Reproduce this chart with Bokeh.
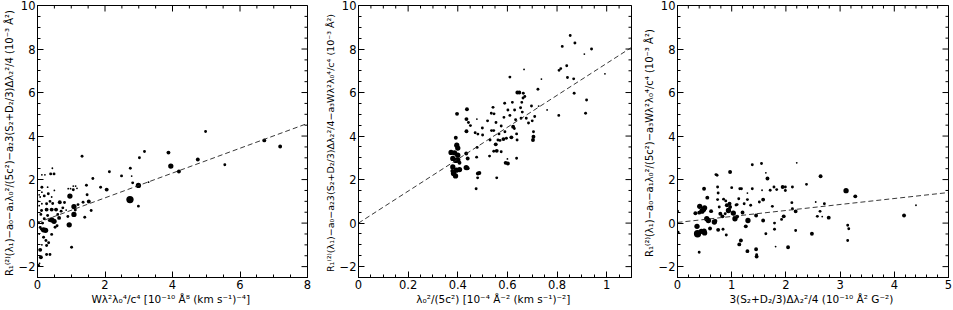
import math
from bokeh.plotting import figure
from bokeh.layouts import row
from bokeh.models import Range1d, LinearAxis, SingleIntervalTicker, CustomJSTickFormatter, ColumnDataSource
from bokeh.embed import file_html
from bokeh.resources import INLINE

# ---------------- data ----------------
# panel 1: x = W^2 lambda0^4 / c^4, y = residual, w = weight class (1..5)
p1_x = [4.98, 4.75, 3.95, 4.19, 5.55, 6.72, 7.19, 3.88, 3.17, 3.02, 3.29, 2.99, 2.99, 2.74, 2.75, 2.79, 2.82,
        2.49, 2.13, 2.05, 1.87, 1.64, 1.45, 1.32, 1.52, 1.59, 1.40, 1.47, 1.35, 1.20, 1.17, 1.13, 1.06, 1.06,
        0.98, 0.91, 0.96, 1.08, 1.08, 0.94, 1.01, 1.12, 0.90, 0.80, 0.66, 0.64, 0.75, 0.55, 0.42, 0.27, 0.12,
        0.42, 0.49, 0.35, 0.18, 0.24, 0.12, 0.08, 0.03, 0.52, 0.58, 0.42, 0.18, 0.25, 0.27, 0.33, 0.08, 0.10,
        0.27, 0.37, 0.03, 0.06, 0.13, 0.05, 0.20, 0.30, 0.60, 0.50, 0.39, 0.49, 0.44, 0.13, 0.22, 0.13, 0.13,
        0.05, 0.32, 0.42, 0.20, 0.08, 0.13, 0.27, 0.37, 0.05, 0.10, 0.30, 0.45, 0.03, 0.15, 0.70, 0.85]
p1_y = [4.21, 2.92, 2.62, 2.37, 2.68, 3.80, 3.52, 3.24, 3.29, 3.00, 1.88, 1.73, 0.78, 1.08, 2.52, 2.16, 1.85,
        2.17, 2.36, 1.54, 1.65, 2.05, 1.74, 3.07, 0.99, 0.58, 0.27, 1.30, 0.96, 0.85, 1.60, 1.70, 1.70, 1.53,
        1.58, 1.58, 1.24, 0.76, 0.40, -0.08, -1.11, 0.60, 0.30, 0.95, 0.96, 0.24, 0.70, 0.62, 0.62, 0.62, 0.58,
        0.15, 0.08, 0.12, -0.31, -0.33, -0.28, -0.20, 0.02, -0.19, -0.12, -0.52, -0.65, -0.80, -1.03, -0.90, -1.23, -1.57,
        -1.44, -1.44, -1.95, -1.85, -1.00, -0.50, 0.20, 0.35, 0.40, 1.50, 2.26, 2.26, 2.52, 2.22, 2.22, 1.65, 1.42,
        1.30, 1.35, 1.20, 1.25, 1.20, 0.89, 0.89, 1.00, 0.80, 0.40, 1.65, 0.90, 1.00, 0.00, 0.55, 0.60]
p1_w = [2, 3, 4, 3, 2, 3, 3, 3, 2, 2, 1, 4, 2, 5, 2, 1, 2,
        2, 2, 3, 2, 2, 2, 2, 3, 2, 2, 2, 2, 2, 1, 1, 1, 2,
        1, 1, 4, 4, 4, 4, 2, 2, 2, 2, 3, 3, 2, 3, 3, 3, 2,
        4, 4, 2, 4, 4, 2, 2, 2, 2, 2, 2, 2, 2, 2, 2, 3, 3,
        2, 2, 2, 1, 1, 1, 2, 2, 2, 1, 2, 2, 1, 1, 1, 2, 1,
        1, 2, 1, 2, 1, 1, 2, 2, 1, 2, 1, 2, 1, 2, 2, 1]

# panel 2: x = lambda0^2/(5c^2)
p2_x = [0.373, 0.387, 0.396, 0.400, 0.400, 0.380, 0.392, 0.400, 0.407, 0.380, 0.394, 0.407, 0.383, 0.391, 0.378,
        0.392, 0.397, 0.434, 0.440, 0.434, 0.440, 0.435, 0.437, 0.435, 0.443, 0.451, 0.470, 0.481, 0.477, 0.499,
        0.476, 0.481, 0.487, 0.480, 0.474, 0.478, 0.528, 0.530, 0.536, 0.535, 0.542, 0.546, 0.554, 0.553, 0.557,
        0.557, 0.562, 0.566, 0.575, 0.584, 0.575, 0.586, 0.589, 0.602, 0.610, 0.593, 0.602, 0.596, 0.616, 0.623,
        0.628, 0.633, 0.640, 0.648, 0.629, 0.639, 0.637, 0.637, 0.653, 0.658, 0.663, 0.664, 0.670, 0.655, 0.676,
        0.685, 0.697, 0.700, 0.703, 0.705, 0.705, 0.667, 0.737, 0.723, 0.726, 0.710, 0.808, 0.815, 0.821, 0.839,
        0.842, 0.853, 0.872, 0.867, 0.869, 0.939, 0.910, 0.915, 0.919, 0.993, 0.807, 0.610, 0.590, 0.545, 0.520,
        0.500, 0.660, 0.620, 0.570, 0.545, 0.600, 0.760]
p2_y = [3.25, 3.23, 3.58, 3.45, 3.12, 2.97, 2.88, 2.90, 2.77, 2.58, 2.43, 2.46, 2.28, 2.17, 2.40,
        3.92, 5.02, 3.20, 2.97, 2.55, 2.52, 4.22, 5.23, 4.78, 4.62, 4.48, 4.15, 4.09, 4.78, 4.37,
        3.03, 2.28, 2.30, 2.08, 1.58, 3.48, 3.08, 3.82, 4.25, 5.05, 5.32, 5.02, 4.62, 3.62, 3.32,
        2.08, 3.82, 4.10, 3.28, 3.86, 4.46, 4.86, 5.51, 5.20, 6.71, 2.77, 2.74, 3.90, 3.94, 4.43,
        4.35, 4.75, 6.00, 6.00, 5.20, 3.82, 4.10, 2.98, 5.30, 5.55, 5.75, 5.97, 5.82, 4.82, 4.82,
        4.60, 5.38, 4.70, 3.82, 3.97, 4.20, 7.06, 6.62, 6.15, 5.38, 4.90, 7.02, 7.10, 8.12, 7.23,
        6.69, 8.62, 8.28, 6.63, 5.97, 8.00, 7.77, 5.05, 5.66, 6.86, 4.95, 4.95, 4.20, 4.25, 4.70,
        4.05, 5.10, 5.55, 3.80, 3.30, 2.95, 5.20]
p2_w = [4, 4, 4, 4, 4, 4, 4, 4, 3, 4, 4, 4, 4, 4, 3,
        3, 3, 3, 3, 4, 3, 3, 3, 3, 2, 2, 2, 2, 1, 2,
        2, 3, 3, 2, 2, 2, 2, 2, 2, 2, 2, 2, 2, 3, 3,
        2, 2, 2, 2, 3, 2, 2, 2, 2, 2, 3, 3, 2, 3, 3,
        2, 2, 3, 3, 2, 2, 2, 2, 2, 2, 2, 2, 2, 2, 2,
        2, 2, 2, 3, 3, 2, 1, 1, 2, 1, 2, 2, 2, 2, 2,
        2, 2, 2, 2, 2, 2, 1, 2, 2, 1, 2, 2, 2, 2, 2,
        2, 2, 2, 2, 2, 1, 1]

# panel 3: x = 3(S2+D2/3) dlambda2^2 / 4
p3_x = [0.37, 0.36, 0.44, 0.49, 0.50, 0.41, 0.40, 0.48, 0.50, 0.57, 0.54, 0.68, 0.75, 0.75, 0.74, 0.71, 0.73,
        0.55, 0.49, 0.40, 0.00, 0.01, 0.79, 0.83, 0.84, 0.89, 0.91, 0.94, 0.97, 0.97, 0.96, 1.00, 1.03, 1.06,
        1.08, 1.10, 1.13, 1.15, 1.18, 1.20, 1.23, 1.17, 1.14, 1.26, 1.29, 1.30, 1.29, 1.29, 1.38, 1.38, 1.35,
        1.45, 1.45, 1.46, 1.46, 1.51, 1.55, 1.56, 1.58, 1.58, 1.63, 1.63, 1.66, 1.71, 1.75, 1.78, 1.79, 1.79,
        1.81, 1.83, 1.92, 1.94, 1.96, 1.99, 1.99, 2.04, 2.12, 2.11, 2.12, 2.18, 2.18, 2.20, 2.38, 2.48, 2.55,
        2.58, 2.63, 2.64, 2.67, 2.71, 2.79, 3.11, 3.14, 3.16, 3.14, 3.28, 4.18, 4.40, 0.77, 0.88, 0.74, 0.62,
        0.85, 0.70, 0.90, 1.10, 0.60, 0.33, 0.45]
p3_y = [-0.49, -0.15, -0.38, -0.37, -0.45, 0.77, 0.48, 0.62, 0.70, 0.12, 0.20, 0.05, -0.31, 1.38, 1.08, 2.23, 2.20,
        1.17, 1.58, -1.34, 0.55, -0.42, 0.43, 0.31, -0.28, 1.02, 0.82, 0.58, 0.74, 2.35, 0.89, 1.63, 0.46, 0.20,
        0.83, 0.85, 1.12, 1.58, 1.58, 0.49, 0.89, -0.80, -0.98, -0.15, -1.29, 0.12, 1.38, 1.08, 2.68, 1.58, 0.82,
        0.35, -1.20, -1.54, -1.45, 0.97, 2.74, 1.51, 1.08, 0.12, 2.31, -0.49, 2.05, 1.51, 0.77, 1.66, -0.28, 0.00,
        -1.08, 1.54, 0.17, 1.66, 0.31, 1.50, 1.66, -1.11, 1.66, 0.94, 0.66, 0.54, -0.34, 2.77, 1.78, -0.49, 0.97,
        0.31, 0.54, 2.15, 0.30, 0.89, 0.25, 1.49, -0.10, -0.26, -0.80, 1.23, 0.35, 0.82, 0.74, 0.43, 1.66, 0.55,
        1.10, 0.10, -0.55, 0.30, -0.25, 0.45, 0.55]
p3_w = [5, 4, 4, 4, 4, 4, 3, 4, 4, 4, 4, 4, 3, 2, 2, 2, 2,
        3, 3, 2, 2, 2, 3, 3, 2, 2, 3, 4, 3, 3, 3, 2, 4, 4,
        2, 2, 2, 2, 2, 3, 2, 3, 3, 3, 3, 4, 1, 2, 2, 2, 2,
        3, 3, 3, 2, 2, 2, 1, 3, 3, 1, 2, 3, 2, 2, 2, 2, 2,
        1, 2, 2, 3, 3, 2, 2, 3, 2, 2, 2, 3, 2, 1, 2, 3, 1,
        2, 2, 3, 1, 2, 3, 4, 2, 2, 2, 3, 3, 1, 2, 2, 2, 3,
        2, 3, 2, 3, 3, 3, 4]

# fitted lines: (intercept, slope)
fit1 = (0.02, 0.57)
fit2 = (0.0, 7.34)
fit3 = (0.03, 0.275)

x_labels = ["W\u03bb\u00b2\u03bb\u2080\u2074/c\u2074  [10\u207b\u00b9\u2070 \u00c5\u2078 (km s\u207b\u00b9)\u207b\u2074]",
            "\u03bb\u2080\u00b2/(5c\u00b2)  [10\u207b\u2074 \u00c5\u207b\u00b2 (km s\u207b\u00b9)\u207b\u00b2]",
            "3(S\u2082+D\u2082/3)\u0394\u03bb\u2082\u00b2/4  (10\u207b\u00b9\u2070 \u00c5\u00b2 G\u207b\u00b2)"]
y_labels = ["R\u2081\u207d\u00b2\u207e(\u03bb\u2081)\u2212a\u2080\u2212a\u2081\u03bb\u2080\u00b2/(5c\u00b2)\u2212a\u20823(S\u2082+D\u2082/3)\u0394\u03bb\u2082\u00b2/4  (10\u207b\u00b3 \u00c5\u00b2)",
            "R\u2081\u207d\u00b2\u207e(\u03bb\u2081)\u2212a\u2080\u2212a\u20823(S\u2082+D\u2082/3)\u0394\u03bb\u2082\u00b2/4\u2212a\u2083W\u03bb\u00b2\u03bb\u2080\u2074/c\u2074  (10\u207b\u00b3 \u00c5\u00b2)",
            "R\u2081\u207d\u00b2\u207e(\u03bb\u2081)\u2212a\u2080\u2212a\u2081\u03bb\u2080\u00b2/(5c\u00b2)\u2212a\u2083W\u03bb\u00b2\u03bb\u2080\u2074/c\u2074  (10\u207b\u00b3 \u00c5\u00b2)"]

FONT = "DejaVu Sans"
SIZE_MAP = {1: 1.8, 2: 2.9, 3: 3.9, 4: 5.3, 5: 7.3}
Y_MIN, Y_MAX, Y_INT, Y_MINOR = -2.5, 10, 2, 4

fmt_code = """
const v = Math.round(tick * 1000) / 1000;
return v < 0 ? "\u2212" + Math.abs(v) : String(v);
"""


def tick_values(lo, hi, interval, nminor):
    step = interval / nminor
    n0 = math.ceil(lo / step - 1e-9)
    n1 = math.floor(hi / step + 1e-9)
    major, minor = [], []
    for k in range(n0, n1 + 1):
        v = k * step
        (major if k % nminor == 0 else minor).append(v)
    return major, minor


def make_panel(xs, ys, ws, xmax, xint, xminor, fit, xlabel, ylabel, width, bl, br, ylab_size):
    p = figure(width=width, height=310, x_range=Range1d(0, xmax), y_range=Range1d(Y_MIN, Y_MAX),
               output_backend="svg", toolbar_location=None, x_axis_type=None, y_axis_type=None,
               min_border_left=bl, min_border_right=br, min_border_top=5, min_border_bottom=33)
    p.grid.visible = False
    p.outline_line_color = "black"
    p.outline_line_width = 1
    p.background_fill_color = "white"
    p.border_fill_color = "white"

    xt = SingleIntervalTicker(interval=xint, num_minor_ticks=xminor)
    yt = SingleIntervalTicker(interval=Y_INT, num_minor_ticks=Y_MINOR)
    fmt = CustomJSTickFormatter(code=fmt_code)

    for ax, side, lsize in ((LinearAxis(ticker=xt, axis_label=xlabel), "below", "10.5px"),
                            (LinearAxis(ticker=yt, axis_label=ylabel), "left", ylab_size)):
        ax.axis_line_color = "black"
        ax.major_tick_in = 6
        ax.major_tick_out = 0
        ax.minor_tick_in = 3
        ax.minor_tick_out = 0
        ax.major_tick_line_color = "black"
        ax.minor_tick_line_color = "black"
        ax.major_label_text_font = FONT
        ax.major_label_text_font_size = "11.5px"
        ax.major_label_text_color = "black"
        ax.major_label_standoff = 2
        ax.axis_label_text_font = FONT
        ax.axis_label_text_font_size = lsize
        ax.axis_label_text_font_style = "normal"
        ax.axis_label_text_color = "black"
        ax.axis_label_standoff = 1
        ax.formatter = fmt
        p.add_layout(ax, side)

    # mirrored inward ticks on top and right edges (markers clipped by the frame)
    xmaj, xmin_ = tick_values(0, xmax, xint, xminor)
    ymaj, ymin_ = tick_values(Y_MIN, Y_MAX, Y_INT, Y_MINOR)
    p.scatter(xmaj, [Y_MAX] * len(xmaj), marker="dash", size=12, angle=math.pi / 2, line_color="black")
    p.scatter(xmin_, [Y_MAX] * len(xmin_), marker="dash", size=6, angle=math.pi / 2, line_color="black")
    p.scatter([xmax] * len(ymaj), ymaj, marker="dash", size=12, line_color="black")
    p.scatter([xmax] * len(ymin_), ymin_, marker="dash", size=6, line_color="black")

    src = ColumnDataSource(dict(x=xs, y=ys, s=[SIZE_MAP[w] for w in ws]))
    p.scatter("x", "y", size="s", source=src, fill_color="black", line_color=None)

    b, m = fit
    p.line([0, xmax], [b, b + m * xmax], line_color="#222222", line_width=0.9, line_dash="5 3")
    return p


f1 = make_panel(p1_x, p1_y, p1_w, 8, 2, 4, fit1, x_labels[0], y_labels[0], 316, 34, 9, "10px")
f2 = make_panel(p2_x, p2_y, p2_w, 1.1, 0.2, 4, fit2, x_labels[1], y_labels[1], 320, 42, 5, "9.5px")
f3 = make_panel(p3_x, p3_y, p3_w, 5, 1, 5, fit3, x_labels[2], y_labels[2], 317, 41, 5, "10px")

layout = row(f1, f2, f3)
open("out.html", "w").write(file_html(layout, INLINE))
